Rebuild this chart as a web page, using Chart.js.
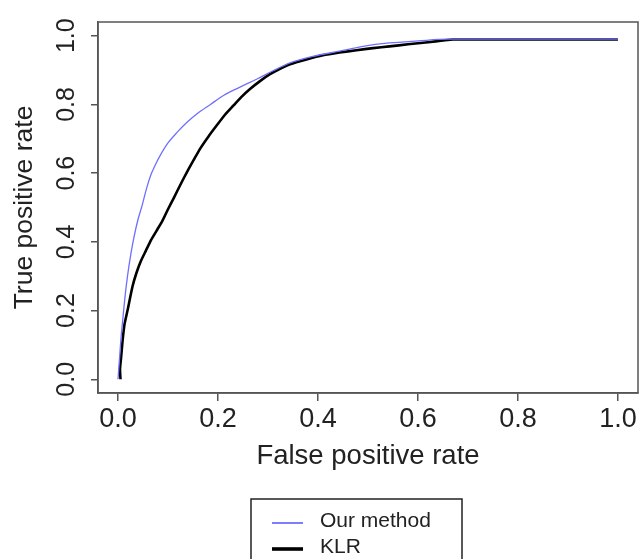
<!DOCTYPE html>
<html>
<head>
<meta charset="utf-8">
<script src="https://cdn.jsdelivr.net/npm/chart.js@4/dist/chart.umd.min.js"></script>
<style>
  body { margin: 0; background: #fff; }
  #wrap { width: 641px; height: 559px; position: relative; }
</style>
</head>
<body>
<div id="wrap"><canvas id="roc"></canvas></div>
<script>
// ROC curves
const ourFpr = [0, 0.003, 0.006, 0.009, 0.014, 0.019, 0.026, 0.032, 0.04, 0.049, 0.057, 0.066, 0.075, 0.085, 0.1, 0.119, 0.138, 0.158, 0.185, 0.211, 0.245, 0.278, 0.31, 0.344, 0.39, 0.443, 0.49, 0.543, 0.6, 0.66, 0.7, 1.0];
const ourTpr = [0, 0.06, 0.12, 0.166, 0.24, 0.30, 0.367, 0.414, 0.465, 0.51, 0.555, 0.596, 0.625, 0.653, 0.688, 0.72, 0.748, 0.773, 0.80, 0.826, 0.851, 0.874, 0.898, 0.921, 0.94, 0.955, 0.969, 0.979, 0.985, 0.99, 0.99, 0.99];

const klrFpr = [0.005, 0.004, 0.006, 0.009, 0.013, 0.019, 0.029, 0.037, 0.046, 0.056, 0.066, 0.077, 0.089, 0.1, 0.112, 0.125, 0.139, 0.152, 0.165, 0.181, 0.198, 0.214, 0.231, 0.247, 0.264, 0.284, 0.304, 0.324, 0.344, 0.377, 0.41, 0.443, 0.477, 0.51, 0.543, 0.58, 0.62, 0.65, 0.67, 1.0];
const klrTpr = [0, 0.03, 0.06, 0.11, 0.16, 0.2, 0.27, 0.31, 0.345, 0.375, 0.405, 0.432, 0.462, 0.495, 0.529, 0.567, 0.606, 0.64, 0.673, 0.707, 0.74, 0.77, 0.797, 0.822, 0.845, 0.868, 0.888, 0.904, 0.917, 0.931, 0.943, 0.951, 0.958, 0.964, 0.969, 0.975, 0.981, 0.986, 0.989, 0.989];

const xTicks = [0, 0.2, 0.4, 0.6, 0.8, 1.0];
const yTicks = [0, 0.2, 0.4, 0.6, 0.8, 1.0];

const axisColor = '#555';
const textColor = '#222';
const fam = 'Liberation Sans, Arial, sans-serif';

const toPoints = (xs, ys) => xs.map((x, i) => ({ x: x, y: ys[i] }));

// R-style box round the plot region
const boxPlugin = {
  id: 'box',
  afterDraw(chart) {
    const { ctx, chartArea: a } = chart;
    ctx.save();
    ctx.strokeStyle = axisColor;
    ctx.lineWidth = 1.5;
    ctx.strokeRect(a.left, a.top, a.right - a.left, a.bottom - a.top);
    ctx.restore();
  }
};

// boxed legend under the plot, like R's legend()
const legendPlugin = {
  id: 'boxLegend',
  afterDraw(chart) {
    const ctx = chart.ctx;
    ctx.save();
    ctx.strokeStyle = '#222';
    ctx.lineWidth = 1.5;
    ctx.strokeRect(251, 499, 211, 80);
    ctx.font = '21px ' + fam;
    ctx.textBaseline = 'middle';
    ctx.fillStyle = textColor;
    chart.data.datasets.forEach((ds, i) => {
      const y = 523 + i * 26;
      ctx.strokeStyle = ds.borderColor;
      ctx.lineWidth = ds.borderWidth + (i === 1 ? 1 : 0.5);
      ctx.beginPath();
      ctx.moveTo(272, y);
      ctx.lineTo(303, y);
      ctx.stroke();
      ctx.fillText(ds.label, 320, y - 2);
    });
    ctx.restore();
  }
};

new Chart(document.getElementById('roc'), {
  type: 'line',
  data: {
    datasets: [
      {
        label: 'Our method',
        data: toPoints(ourFpr, ourTpr),
        borderColor: '#6f6fff',
        borderWidth: 1.3,
        pointRadius: 0,
        cubicInterpolationMode: 'monotone',
        fill: false
      },
      {
        label: 'KLR',
        data: toPoints(klrFpr, klrTpr),
        borderColor: '#000',
        borderWidth: 2.6,
        pointRadius: 0,
        tension: 0.2,
        fill: false
      }
    ]
  },
  options: {
    responsive: true,
    maintainAspectRatio: false,
    animation: false,
    layout: { padding: { left: 0, top: 15, right: 3, bottom: 86 } },
    plugins: { legend: { display: false }, tooltip: { enabled: false } },
    scales: {
      x: {
        type: 'linear',
        min: -0.04,
        max: 1.04,
        afterBuildTicks: s => { s.ticks = xTicks.map(v => ({ value: v })); },
        afterFit: s => { s.height = 80; },
        grid: { drawOnChartArea: false, drawTicks: true, tickLength: 8, color: axisColor, lineWidth: 1.5 },
        border: { display: true, color: axisColor, width: 1.5 },
        ticks: {
          padding: 2,
          color: textColor,
          font: { size: 27, family: fam },
          maxRotation: 0,
          callback: v => v.toFixed(1)
        },
        title: {
          display: true,
          text: 'False positive rate',
          color: textColor,
          font: { size: 27.5, family: fam },
          padding: { top: 0, bottom: 0 }
        }
      },
      y: {
        type: 'linear',
        min: -0.04,
        max: 1.04,
        afterBuildTicks: s => { s.ticks = yTicks.map(v => ({ value: v })); },
        afterFit: s => { s.width = 98; },
        grid: { drawOnChartArea: false, drawTicks: true, tickLength: 7, color: axisColor, lineWidth: 1.5 },
        border: { display: true, color: axisColor, width: 1.5 },
        ticks: {
          padding: 7,
          minRotation: 90,
          maxRotation: 90,
          crossAlign: 'center',
          color: textColor,
          font: { size: 25, family: fam },
          callback: v => v.toFixed(1)
        },
        title: {
          display: true,
          text: 'True positive rate',
          color: textColor,
          font: { size: 26.5, family: fam },
          padding: { top: 9, bottom: 0 }
        }
      }
    }
  },
  plugins: [boxPlugin, legendPlugin]
});
</script>
</body>
</html>
